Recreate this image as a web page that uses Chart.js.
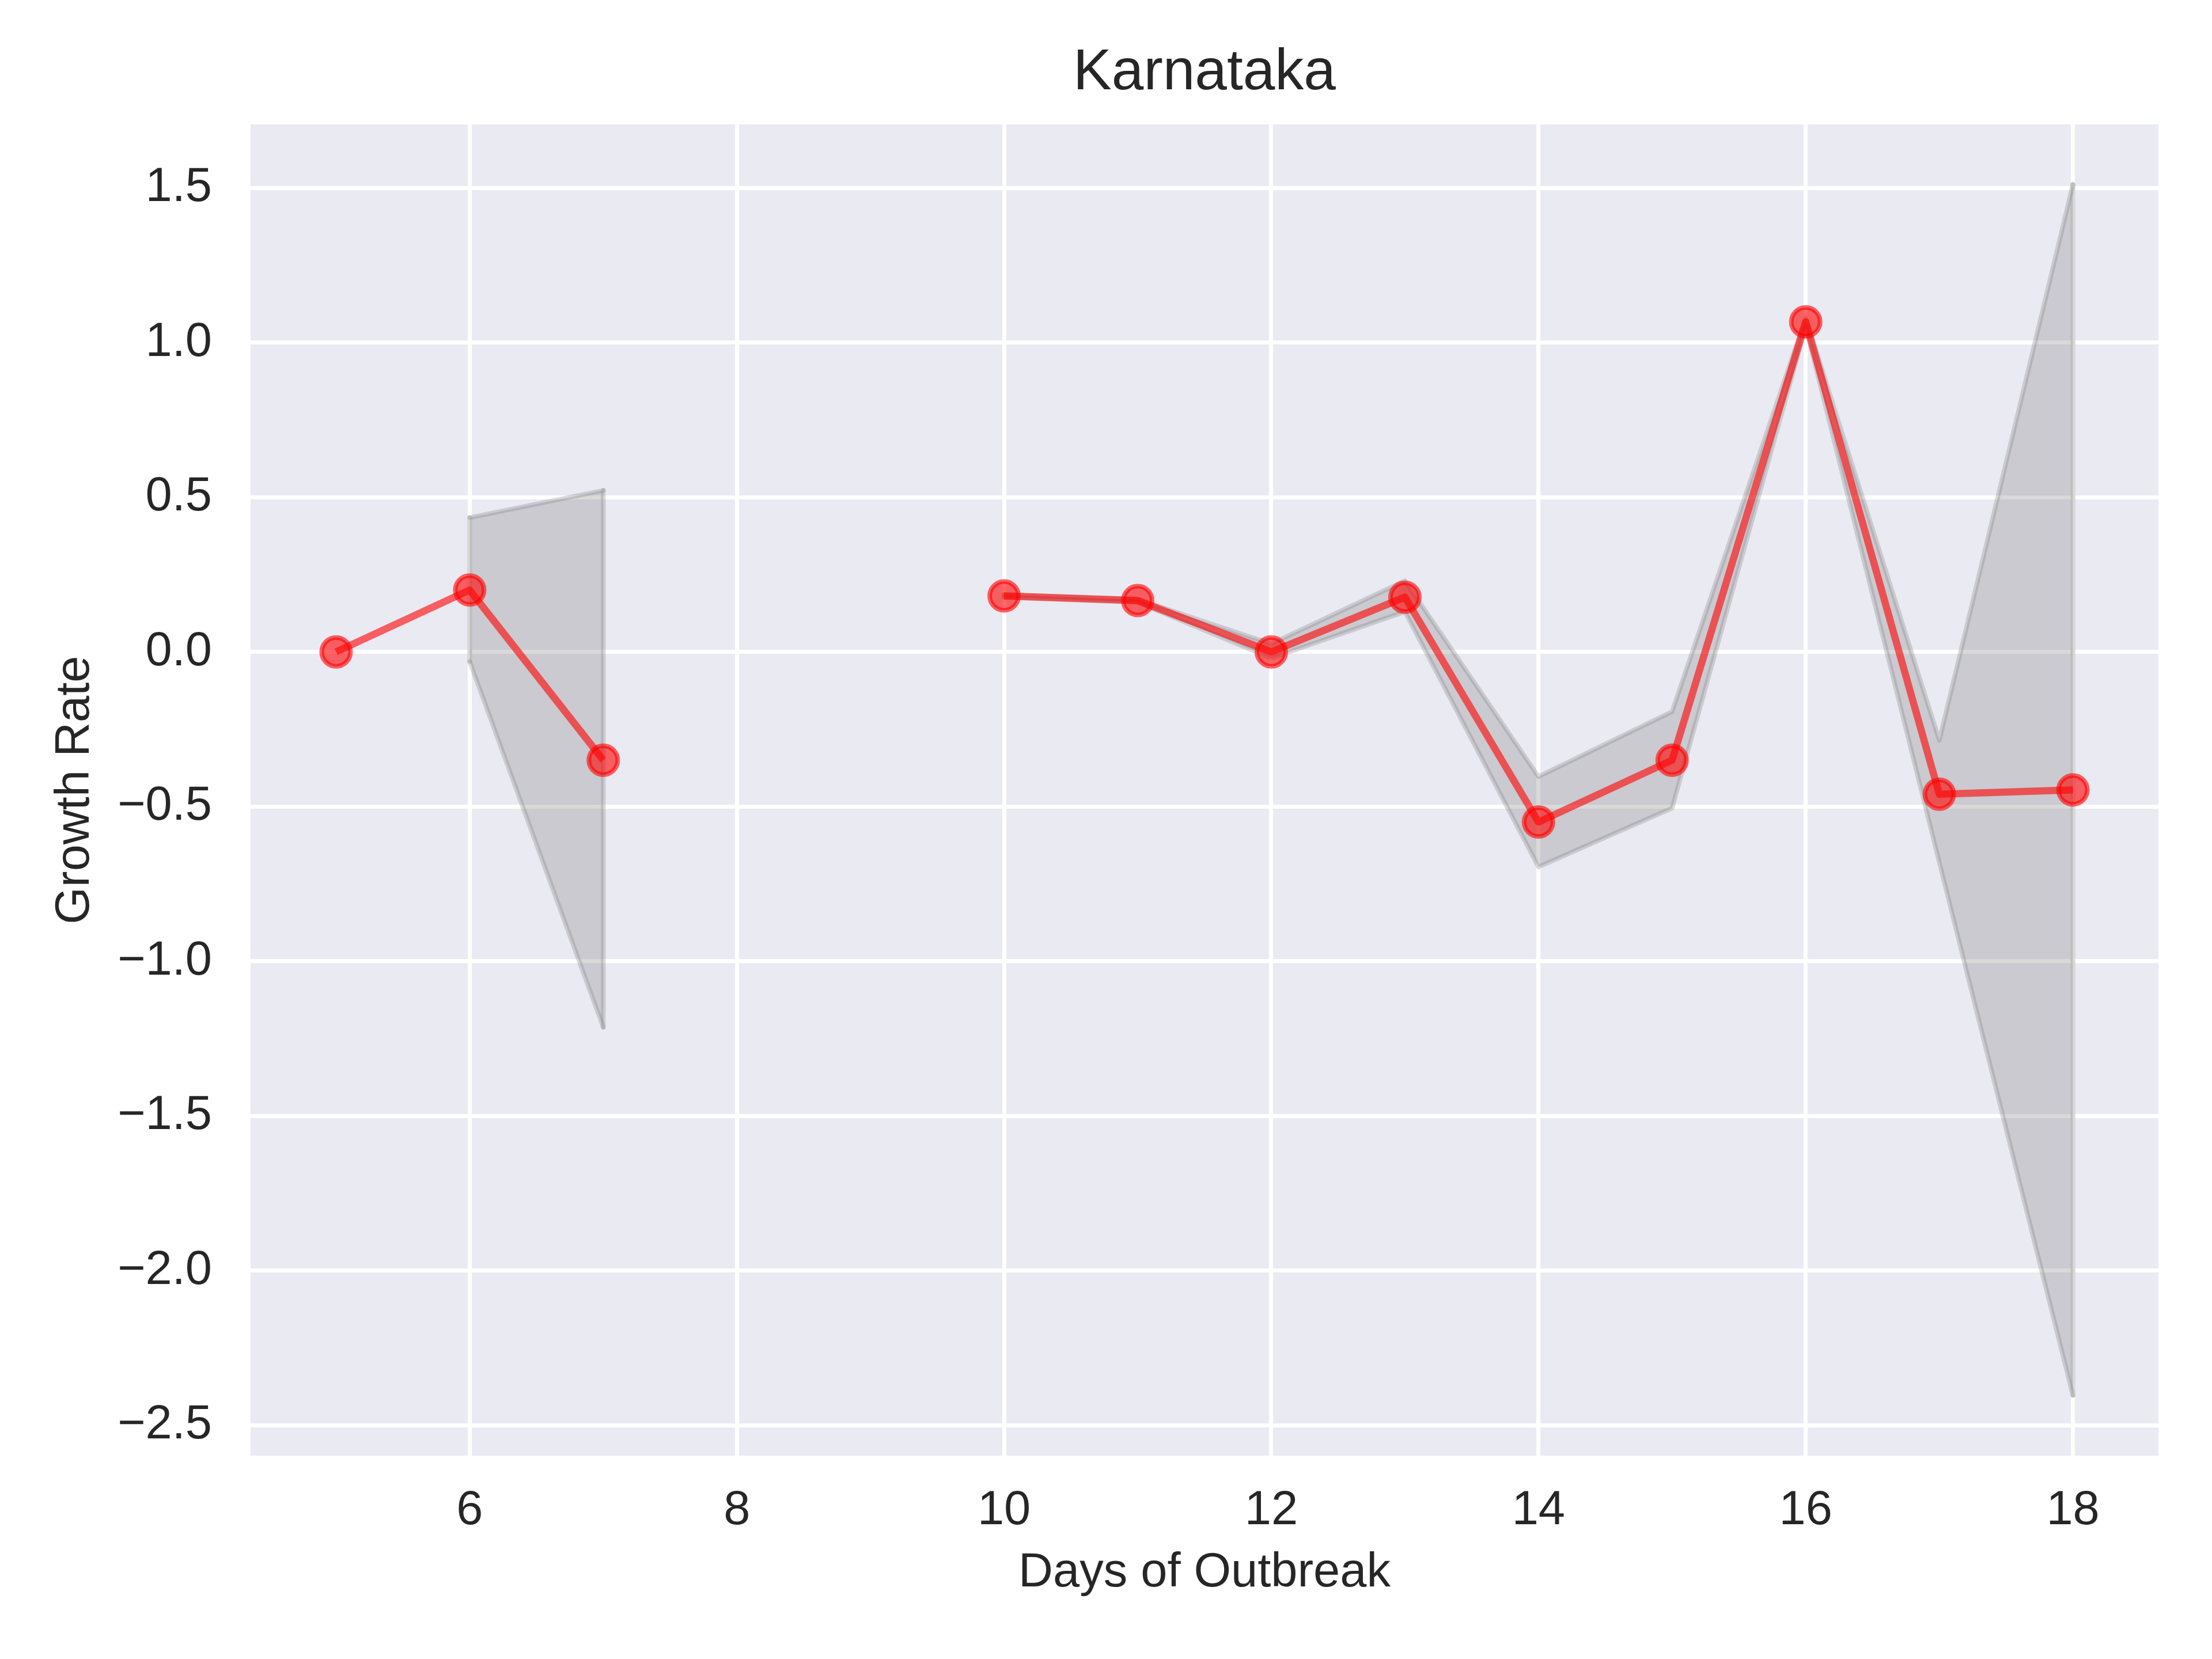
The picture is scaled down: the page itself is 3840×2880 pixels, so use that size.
<!DOCTYPE html>
<html><head><meta charset="utf-8">
<script src="https://cdn.jsdelivr.net/npm/chart.js@4.4.0/dist/chart.umd.min.js"></script>
<style>html,body{margin:0;padding:0;background:#fff;} canvas{display:block;}</style>
</head><body>
<canvas id="c" width="3840" height="2880" style="width:3840px;height:2880px"></canvas>
<script>
const chartTitle = 'Karnataka';
const xAxisLabel = 'Days of Outbreak';
const yAxisLabel = 'Growth Rate';
const days       = [5, 6, 7, 8, 9, 10, 11, 12, 13, 14, 15, 16, 17, 18];
const growthMean = [0.0, 0.20, -0.35, null, null, 0.181, 0.166, 0.0, 0.177, -0.55, -0.35, 1.067, -0.46, -0.446];
const bandUpper  = [null, 0.434, 0.522, null, null, 0.185, 0.170, 0.026, 0.23, -0.403, -0.193, 1.08, -0.286, 1.511];
const bandLower  = [null, -0.031, -1.213, null, null, 0.177, 0.160, -0.02, 0.13, -0.695, -0.505, 1.05, -0.68, -2.403];
const xTickValues = [6, 8, 10, 12, 14, 16, 18];
const yTickValues = [-2.5, -2.0, -1.5, -1.0, -0.5, 0.0, 0.5, 1.0, 1.5];

const TEXT = '#262626';
const FONT = 'Liberation Sans, Arial, sans-serif';
const bandColor = 'rgba(128,128,128,0.3)';
const lineColor = 'rgba(255,0,0,0.6)';

const toXY = arr => days.map((d, i) => ({x: d, y: arr[i]}));

// vertical closing edges of each band run
const edgeSets = [];
let runStart = null;
for (let i = 0; i <= days.length; i++) {
  const ok = i < days.length && bandUpper[i] !== null && bandLower[i] !== null;
  if (ok && runStart === null) runStart = i;
  if (!ok && runStart !== null) {
    const endI = i - 1;
    [runStart, endI].forEach(k => edgeSets.push({
      data: [{x: days[k], y: bandLower[k]}, {x: days[k], y: bandUpper[k]}],
      borderColor: bandColor, borderWidth: 8, pointRadius: 0, fill: false, order: 3,
      borderJoinStyle: 'round', borderCapStyle: 'round'
    }));
    runStart = null;
  }
}

const bgPlugin = {
  id: 'bg',
  afterLayout(chart) {
    // centre the title over the plotting area, like matplotlib
    const t = chart.titleBlock, a = chart.chartArea;
    if (t && a) { t.left = a.left; t.right = a.right; t.width = a.right - a.left; }
  },
  beforeDraw(chart) {
    const {ctx, chartArea: a} = chart;
    ctx.save();
    ctx.fillStyle = '#ffffff';
    ctx.fillRect(0, 0, chart.width, chart.height);
    ctx.fillStyle = '#EAEAF2';
    ctx.fillRect(a.left, a.top, a.right - a.left, a.bottom - a.top);
    ctx.restore();
  }
};

const fmt = v => {
  const s = Number(v).toFixed(1);
  return s.startsWith('-') ? '\u2212' + s.slice(1) : s;
};

new Chart(document.getElementById('c'), {
  type: 'line',
  data: {
    datasets: [
      {
        data: toXY(growthMean), borderColor: lineColor, borderWidth: 12.5,
        pointRadius: 25, pointBorderWidth: 8,
        pointBackgroundColor: lineColor, pointBorderColor: lineColor,
        borderJoinStyle: 'round', fill: false, order: 0, tension: 0
      },
      {
        data: toXY(bandUpper), borderColor: bandColor, backgroundColor: bandColor,
        borderWidth: 8, pointRadius: 0, fill: '+1', order: 1, tension: 0,
        borderJoinStyle: 'round', borderCapStyle: 'round'
      },
      {
        data: toXY(bandLower), borderColor: bandColor, borderWidth: 8,
        pointRadius: 0, fill: false, order: 2, tension: 0,
        borderJoinStyle: 'round', borderCapStyle: 'round'
      },
      ...edgeSets
    ]
  },
  options: {
    responsive: false,
    devicePixelRatio: 1,
    animation: false,
    events: [],
    layout: {padding: {left: 0, right: 93, top: 0, bottom: 0}},
    plugins: {
      legend: {display: false},
      tooltip: {enabled: false},
      title: {
        display: true, text: chartTitle, color: TEXT,
        font: {family: FONT, size: 100, weight: 'normal', lineHeight: 1.2},
        padding: {top: 67, bottom: 29}
      }
    },
    scales: {
      x: {
        type: 'linear', min: 4.36, max: 18.64,
        afterBuildTicks: s => { s.ticks = xTickValues.map(v => ({value: v})); },
        afterFit: s => { s.height = 353; },
        grid: {color: '#ffffff', lineWidth: 7, drawTicks: false},
        border: {display: false},
        ticks: {color: TEXT, font: {family: FONT, size: 83}, padding: 46,
                maxRotation: 0, autoSkip: false, callback: v => String(v)},
        title: {display: true, text: xAxisLabel, color: TEXT,
                font: {family: FONT, size: 83, lineHeight: 1.2},
                padding: {top: 0, bottom: 99}}
      },
      y: {
        type: 'linear', min: -2.598, max: 1.705,
        afterBuildTicks: s => { s.ticks = yTickValues.map(v => ({value: v})); },
        afterFit: s => { s.width = 435; },
        grid: {color: '#ffffff', lineWidth: 7, drawTicks: false},
        border: {display: false},
        ticks: {color: TEXT, font: {family: FONT, size: 83}, padding: 67,
                autoSkip: false, callback: v => fmt(v)},
        title: {display: true, text: yAxisLabel, color: TEXT,
                font: {family: FONT, size: 83, lineHeight: 1.2},
                padding: {top: 81, bottom: 0}}
      }
    }
  },
  plugins: [bgPlugin]
});
</script>
</body></html>
